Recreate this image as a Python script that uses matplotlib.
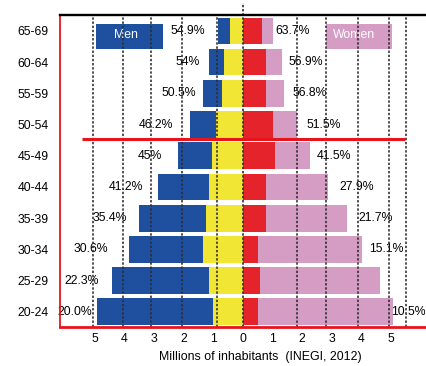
import matplotlib
matplotlib.use("Agg")
import matplotlib.pyplot as plt
from matplotlib.patches import Rectangle

plt.rcParams['font.family'] = ['Liberation Sans', 'DejaVu Sans']

# ---------------- data (millions of inhabitants, INEGI 2012) ----------------
age_groups = ["20-24", "25-29", "30-34", "35-39", "40-44",
              "45-49", "50-54", "55-59", "60-64", "65-69"]
men_total = [4.94, 4.42, 3.85, 3.51, 2.86, 2.20, 1.78, 1.36, 1.15, 0.83]
men_inner = [1.00, 1.15, 1.34, 1.25, 1.15, 1.04, 0.91, 0.72, 0.63, 0.45]
women_total = [5.06, 4.63, 4.01, 3.52, 2.88, 2.26, 1.81, 1.39, 1.32, 1.00]
women_inner = [0.52, 0.58, 0.52, 0.77, 0.79, 1.08, 1.00, 0.78, 0.76, 0.64]
men_pct = ["20.0%", "22.3%", "30.6%", "35.4%", "41.2%",
           "45%", "46.2%", "50.5%", "54%", "54.9%"]
women_pct = ["10.5%", "", "15.1%", "21.7%", "27.9%",
             "41.5%", "51.5%", "56.8%", "56.9%", "63.7%"]
tick_values = [-5, -4, -3, -2, -1, 0, 1, 2, 3, 4, 5]
tick_labels = ["5", "4", "3", "2", "1", "0", "1", "2", "3", "4", "5"]

# ---------------- style ----------------
BLUE = "#1f4f9f"
YELLOW = "#f2e634"
RED = "#e5232b"
PINK = "#d59dc4"
LINE_RED = "#e8141c"
GRID = "#2e2e2e"
FS = 8.8

# label offsets (pixels) from bar ends
men_off = [-5, -13, -21, -12, -15, -16, -17, -7, -9, -13]
women_off = [-1.5, 0, 7, 11, 11, 7, 10, 8, 6, 3]

fig = plt.figure(figsize=(4.27, 3.66), dpi=100)
ax = fig.add_axes([60 / 427, 1 - 326.5 / 366, 366 / 427, (326.5 - 15) / 366])
ax.set_xlim(-6.18, 6.18)
ax.set_ylim(-0.47, 9.51)

y = list(range(len(age_groups)))
h = 0.855
neg_men_total = [-v for v in men_total]
neg_men_inner = [-v for v in men_inner]
ax.barh(y, neg_men_total, height=h, color=BLUE, zorder=2)
ax.barh(y, neg_men_inner, height=h, color=YELLOW, zorder=3)
ax.barh(y, women_total, height=h, color=PINK, zorder=2)
ax.barh(y, women_inner, height=h, color=RED, zorder=3)

# percentage labels
for i in y:
    ax.annotate(men_pct[i], xy=(-men_total[i], i), xytext=(men_off[i] * 0.72, 0),
                textcoords="offset points", ha="right", va="center",
                fontsize=FS, color="black", zorder=6)
    if women_pct[i]:
        ax.annotate(women_pct[i], xy=(women_total[i], i), xytext=(women_off[i] * 0.72, 0),
                    textcoords="offset points", ha="left", va="center",
                    fontsize=FS, color="black", zorder=6)

# legend boxes
ax.add_patch(Rectangle((-4.97, 8.41), 2.27, 0.81, facecolor=BLUE, edgecolor="none", zorder=4))
ax.text(-3.97, 8.86, "Men", color="white", ha="center", va="center", fontsize=FS, zorder=5)
ax.add_patch(Rectangle((2.79, 8.41), 2.23, 0.81, facecolor=PINK, edgecolor="none", zorder=4))
ax.text(3.75, 8.86, "Women", color="white", ha="center", va="center", fontsize=FS, zorder=5)

# dashed grid lines
grid_x = [-5.06, -4.04, -3.11, -2.05, -0.89, 1.81, 2.79, 3.90, 4.93, 5.51]
for gx in grid_x:
    ax.plot([gx, gx], [-0.47, 9.51], color=GRID, lw=1.3, ls=(0, (1.3, 1.0)),
            zorder=7, alpha=0.9, clip_on=False)
ax.plot([0, 0], [-0.47, 9.9], color=GRID, lw=1.3, ls=(0, (1.3, 1.0)),
        zorder=7, alpha=0.95, clip_on=False)

# red separator line
ax.plot([-5.44, 5.47], [5.53, 5.53], color=LINE_RED, lw=2.2, zorder=8, solid_capstyle="butt")

# spines
ax.spines["right"].set_visible(False)
ax.spines["top"].set_color("black")
ax.spines["top"].set_linewidth(1.7)
ax.spines["top"].set_zorder(9)
ax.spines["bottom"].set_color(LINE_RED)
ax.spines["bottom"].set_linewidth(2.0)
ax.spines["bottom"].set_zorder(9)
ax.spines["left"].set_color(LINE_RED)
ax.spines["left"].set_linewidth(1.3)
ax.spines["left"].set_linestyle((0, (1.8, 1.0)))
ax.spines["left"].set_zorder(9)

ax.set_yticks(y)
ax.set_yticklabels(age_groups, fontsize=FS)
ax.set_xticks(tick_values)
ax.set_xticklabels(tick_labels, fontsize=FS)
ax.tick_params(axis="y", length=0, pad=8)
ax.tick_params(axis="x", length=0, pad=5)

fig.text(260 / 427, 1 - 356.7 / 366, "Millions of inhabitants  (INEGI, 2012)",
         ha="center", va="center", fontsize=8.9)

fig.savefig("out.png", dpi=100)
